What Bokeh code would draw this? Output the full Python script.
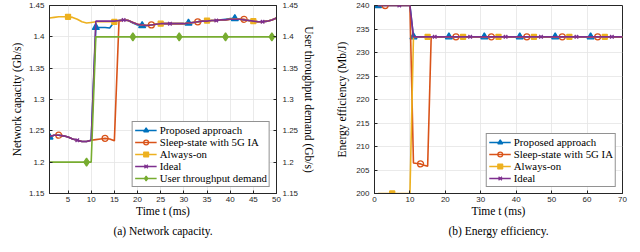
from bokeh.plotting import figure
from bokeh.layouts import row
from bokeh.models import Range1d, LinearAxis, FixedTicker, Legend, LegendItem, Title
from bokeh.embed import file_html
from bokeh.resources import INLINE

# ---------------- data: (a) network capacity ----------------
t_a = list(range(1, 51))
cap_proposed = [1.240, 1.243, 1.243, 1.242, 1.240, 1.237, 1.235, 1.233, 1.233, 1.235,
                1.415, 1.415, 1.415, 1.414, 1.424, 1.426, 1.427, 1.426, 1.422, 1.419,
                1.418, 1.418, 1.419, 1.420, 1.421, 1.421, 1.421, 1.421, 1.421, 1.421,
                1.422, 1.423, 1.424, 1.425, 1.425, 1.426, 1.426, 1.427, 1.428, 1.429,
                1.429, 1.428, 1.427, 1.426, 1.425, 1.424, 1.424, 1.425, 1.427, 1.430]
cap_sleep = [1.241, 1.243, 1.243, 1.242, 1.240, 1.237, 1.235, 1.233, 1.233, 1.235,
             1.236, 1.237, 1.238, 1.237, 1.234, 1.425, 1.427, 1.426, 1.423, 1.420,
             1.419, 1.418, 1.419, 1.420, 1.421, 1.421, 1.421, 1.421, 1.421, 1.421,
             1.422, 1.423, 1.424, 1.425, 1.425, 1.426, 1.426, 1.427, 1.427, 1.428,
             1.428, 1.428, 1.428, 1.426, 1.425, 1.424, 1.424, 1.425, 1.427, 1.430]
cap_always = [1.430, 1.431, 1.432, 1.432, 1.432, 1.431, 1.428, 1.424, 1.422, 1.423,
              1.424, 1.424, 1.424, 1.424, 1.424, 1.426, 1.427, 1.426, 1.423, 1.420,
              1.419, 1.418, 1.419, 1.420, 1.421, 1.421, 1.421, 1.421, 1.421, 1.421,
              1.422, 1.423, 1.424, 1.425, 1.426, 1.426, 1.426, 1.427, 1.427, 1.428,
              1.428, 1.428, 1.427, 1.426, 1.425, 1.424, 1.424, 1.425, 1.427, 1.430]
cap_ideal = [1.241, 1.243, 1.243, 1.242, 1.240, 1.237, 1.235, 1.233, 1.233, 1.235,
             1.425, 1.425, 1.425, 1.425, 1.425, 1.426, 1.427, 1.426, 1.423, 1.420,
             1.419, 1.418, 1.419, 1.420, 1.421, 1.421, 1.421, 1.421, 1.421, 1.421,
             1.422, 1.423, 1.424, 1.425, 1.425, 1.426, 1.426, 1.427, 1.427, 1.428,
             1.428, 1.428, 1.427, 1.426, 1.425, 1.424, 1.424, 1.425, 1.427, 1.430]
demand = [1.2, 1.2, 1.2, 1.2, 1.2, 1.2, 1.2, 1.2, 1.2, 1.2,
          1.4, 1.4, 1.4, 1.4, 1.4, 1.4, 1.4, 1.4, 1.4, 1.4,
          1.4, 1.4, 1.4, 1.4, 1.4, 1.4, 1.4, 1.4, 1.4, 1.4,
          1.4, 1.4, 1.4, 1.4, 1.4, 1.4, 1.4, 1.4, 1.4, 1.4,
          1.4, 1.4, 1.4, 1.4, 1.4, 1.4, 1.4, 1.4, 1.4, 1.4]
mk_proposed_a = [1, 11, 21, 31, 41]
mk_sleep_a = [3, 13, 23, 33, 43]
mk_always_a = [5, 15, 25, 35, 45]
mk_ideal_a = [7, 17, 27, 37, 47]
mk_demand_a = [9, 19, 29, 39, 49]
xticks_a = [5, 10, 15, 20, 25, 30, 35, 40, 45, 50]
yticks_a = [1.15, 1.2, 1.25, 1.3, 1.35, 1.4, 1.45]
ylabels_a = ["1.15", "1.2", "1.25", "1.3", "1.35", "1.4", "1.45"]

# ---------------- data: (b) energy efficiency ----------------
tb_proposed = [1, 10, 11, 70]
eff_proposed = [240, 240, 233.33, 233.33]
tb_sleep = [1, 10, 11, 12, 13, 14, 15, 16, 70]
eff_sleep = [240, 240, 206.5, 206.4, 206.3, 206.0, 205.8, 233.33, 233.33]
tb_always = [1, 10, 11, 70]
eff_always = [200, 200, 233.33, 233.33]
tb_ideal = [1, 10, 11, 70]
eff_ideal = [240, 240, 233.33, 233.33]
mkt_proposed_b = [1, 11, 21, 31, 41, 51, 61]
mky_proposed_b = [240, 233.33, 233.33, 233.33, 233.33, 233.33, 233.33]
mkt_sleep_b = [3, 13, 23, 33, 43, 53, 63]
mky_sleep_b = [240, 206.3, 233.33, 233.33, 233.33, 233.33, 233.33]
mkt_always_b = [5, 15, 25, 35, 45, 55, 65]
mky_always_b = [200, 233.33, 233.33, 233.33, 233.33, 233.33, 233.33]
mkt_ideal_b = [7, 17, 27, 37, 47, 57, 67]
mky_ideal_b = [240, 233.33, 233.33, 233.33, 233.33, 233.33, 233.33]
xticks_b = [0, 10, 20, 30, 40, 50, 60, 70]
yticks_b = [200, 205, 210, 215, 220, 225, 230, 235, 240]

names = ["Proposed approach", "Sleep-state with 5G IA", "Always-on", "Ideal", "User throughput demand"]
colors = ["#0072BD", "#D95319", "#EDB120", "#7E2F8E", "#77AC30"]

AX = "#262626"
SERIF = "Liberation Serif"


def style_axis(ax):
    ax.axis_line_color = AX
    ax.major_tick_line_color = AX
    ax.major_tick_in = 3
    ax.major_tick_out = 0
    ax.minor_tick_line_color = None
    ax.major_label_text_font = "Liberation Sans"
    ax.major_label_text_font_size = "8px"
    ax.major_label_text_color = AX
    ax.axis_label_text_font = SERIF
    ax.axis_label_text_font_size = "11.5px"
    ax.axis_label_text_font_style = "normal"
    ax.axis_label_text_color = "black"


def base_fig(xr, yr, bl, br, xl, yl):
    p = figure(width=320, height=252, x_range=xr, y_range=yr,
               output_backend="svg", toolbar_location=None,
               min_border_left=bl, min_border_right=br,
               min_border_top=5, min_border_bottom=59,
               x_axis_label=xl, y_axis_label=yl)
    p.outline_line_color = AX
    p.outline_line_width = 1
    p.grid.grid_line_color = "#e4e4e4"
    p.grid.grid_line_width = 0.8
    for ax in p.axis:
        style_axis(ax)
    p.xaxis.major_label_standoff = 3
    p.xaxis.axis_label_standoff = 0
    p.yaxis.major_label_standoff = 5
    p.yaxis.axis_label_standoff = 3
    return p


def add_series(p, xs, ys, mx, my, color, marker, size, fill, y_range_name="default"):
    r1 = p.line(xs, ys, line_color=color, line_width=1.6, y_range_name=y_range_name)
    r2 = p.scatter(mx, my, marker=marker, size=size, line_color=color,
                   fill_color=(color if fill else None), line_width=1.3,
                   y_range_name=y_range_name)
    return [r1, r2]


def make_legend(items):
    lg = Legend(items=items, location="bottom_right", margin=6, padding=2,
                spacing=0, glyph_width=22, glyph_height=12, label_height=12,
                label_standoff=3, label_text_font=SERIF, label_text_font_size="10.8px",
                label_text_color="black", border_line_color=AX, border_line_width=0.8,
                background_fill_alpha=1)
    return lg


def caption(text, offset=0):
    return Title(text=text, align="center", text_font=SERIF, text_font_size="11.5px",
                 text_font_style="normal", text_color="black", standoff=7, offset=offset)


# ---------------- figure (a) ----------------
p1 = base_fig(Range1d(1, 50), Range1d(1.15, 1.45), 49, 44, "Time t (ms)", "Network capacity (Gb/s)")
p1.extra_y_ranges = {"dem": Range1d(1.15, 1.45)}
rax = LinearAxis(y_range_name="dem", axis_label="User throughput demand (Gb/s)")
style_axis(rax)
rax.major_label_standoff = 6
rax.axis_label_standoff = 2
p1.add_layout(rax, "right")
p1.xaxis.ticker = FixedTicker(ticks=xticks_a)
p1.yaxis.ticker = FixedTicker(ticks=yticks_a)
for ax in p1.yaxis:
    ax.major_label_overrides = {v: s for v, s in zip(yticks_a, ylabels_a)}

series_a = [cap_proposed, cap_sleep, cap_always, cap_ideal, demand]
marks_a = [mk_proposed_a, mk_sleep_a, mk_always_a, mk_ideal_a, mk_demand_a]
mstyle = [("triangle", 7, True), ("circle", 6, False), ("square", 5, True), ("x", 5, False), ("diamond", 8, True)]
items_a = []
for i in range(5):
    ys = series_a[i]
    mx = marks_a[i]
    my = [ys[t_a.index(t)] for t in mx]
    rn = "dem" if i == 4 else "default"
    rs = add_series(p1, t_a, ys, mx, my, colors[i], *mstyle[i], y_range_name=rn)
    items_a.append(LegendItem(label=names[i], renderers=rs))
p1.add_layout(make_legend(items_a))
p1.add_layout(caption("(a) Network capacity."), "below")

# ---------------- figure (b) ----------------
p2 = base_fig(Range1d(0, 70), Range1d(200, 240), 54, 18, "Time t (ms)", "Energy efficiency (Mb/J)")
p2.xaxis.ticker = FixedTicker(ticks=xticks_b)
p2.yaxis.ticker = FixedTicker(ticks=yticks_b)
p2.yaxis.axis_label_standoff = 5
lines_b = [(tb_proposed, eff_proposed, mkt_proposed_b, mky_proposed_b),
           (tb_sleep, eff_sleep, mkt_sleep_b, mky_sleep_b),
           (tb_always, eff_always, mkt_always_b, mky_always_b),
           (tb_ideal, eff_ideal, mkt_ideal_b, mky_ideal_b)]
items_b = []
for i in range(4):
    xs, ys, mx, my = lines_b[i]
    rs = add_series(p2, xs, ys, mx, my, colors[i], *mstyle[i])
    items_b.append(LegendItem(label=names[i], renderers=rs))
p2.add_layout(make_legend(items_b))
p2.add_layout(caption("(b) Energy efficiency.", offset=-11), "below")

layout = row(p1, p2)
open("out.html", "w").write(file_html(layout, INLINE))
